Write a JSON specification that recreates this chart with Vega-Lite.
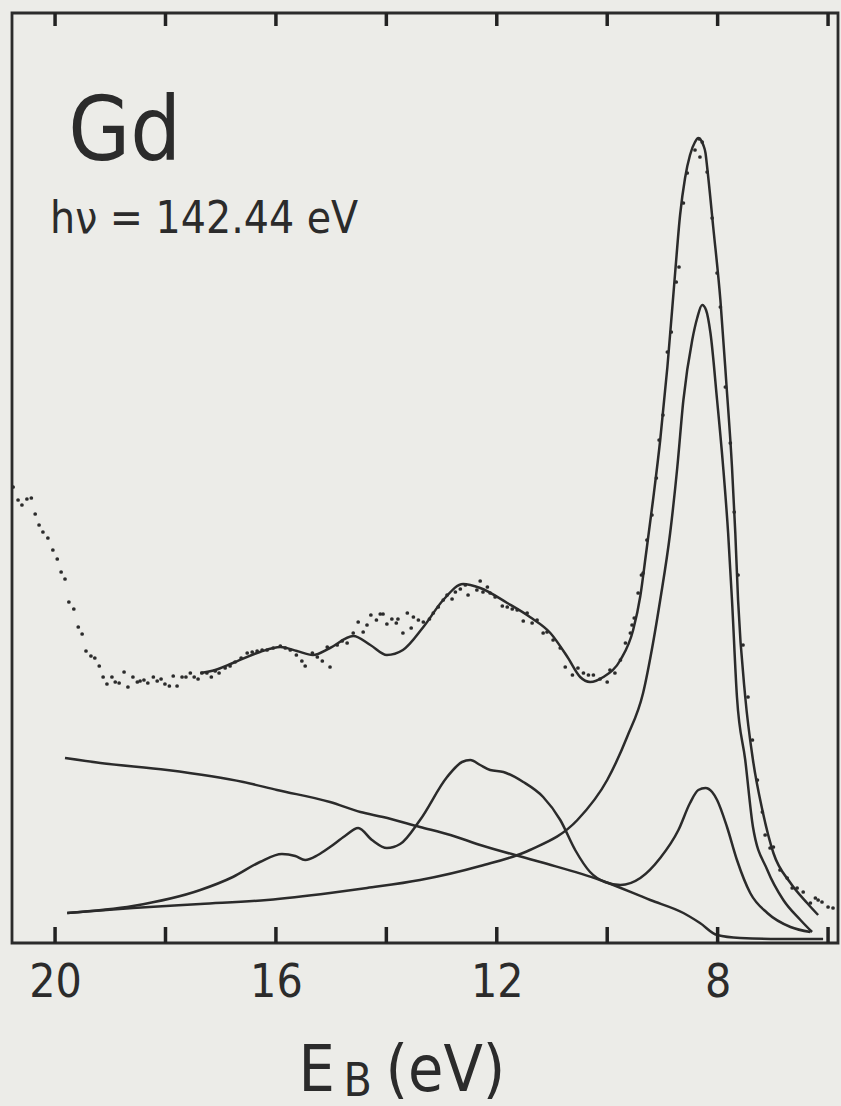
{
  "$schema": "https://vega.github.io/schema/vega-lite/v6.json",
  "width": 826,
  "height": 930,
  "autosize": {"type": "none"},
  "padding": {"left": 12, "top": 13, "right": 3, "bottom": 163},
  "background": "#ecece8",
  "config": {
    "view": {"stroke": "#2b2b2b", "strokeWidth": 2.8},
    "axis": {"grid": false, "domainColor": "#2b2b2b", "domainWidth": 2.8, "tickColor": "#2b2b2b", "tickWidth": 2.5, "labelColor": "#2b2b2b", "titleColor": "#2b2b2b", "labelFont": "DejaVu Sans Condensed, Liberation Sans Narrow, DejaVu Sans", "titleFont": "DejaVu Sans Condensed, Liberation Sans Narrow, DejaVu Sans"}
  },
  "datasets": {
    "tickvals": [{"E": 6}, {"E": 8}, {"E": 10}, {"E": 12}, {"E": 14}, {"E": 16}, {"E": 18}, {"E": 20}],
    "curves": [
      {"curve": "fit", "E": 17.37, "I": 270}, {"curve": "fit", "E": 17.10, "I": 273}, {"curve": "fit", "E": 16.78, "I": 280}, {"curve": "fit", "E": 16.29, "I": 291}, {"curve": "fit", "E": 15.92, "I": 296}, {"curve": "fit", "E": 15.62, "I": 292}, {"curve": "fit", "E": 15.33, "I": 288}, {"curve": "fit", "E": 15.02, "I": 295}, {"curve": "fit", "E": 14.60, "I": 307}, {"curve": "fit", "E": 14.29, "I": 298}, {"curve": "fit", "E": 13.99, "I": 288}, {"curve": "fit", "E": 13.70, "I": 293}, {"curve": "fit", "E": 13.33, "I": 316}, {"curve": "fit", "E": 12.97, "I": 343}, {"curve": "fit", "E": 12.61, "I": 359}, {"curve": "fit", "E": 12.30, "I": 355}, {"curve": "fit", "E": 11.81, "I": 340}, {"curve": "fit", "E": 11.40, "I": 326}, {"curve": "fit", "E": 11.03, "I": 310}, {"curve": "fit", "E": 10.72, "I": 286}, {"curve": "fit", "E": 10.49, "I": 266}, {"curve": "fit", "E": 10.31, "I": 261}, {"curve": "fit", "E": 10.07, "I": 266}, {"curve": "fit", "E": 9.76, "I": 283}, {"curve": "fit", "E": 9.53, "I": 313}, {"curve": "fit", "E": 9.40, "I": 347}, {"curve": "fit", "E": 9.30, "I": 388}, {"curve": "fit", "E": 9.17, "I": 443}, {"curve": "fit", "E": 9.04, "I": 503}, {"curve": "fit", "E": 8.91, "I": 576}, {"curve": "fit", "E": 8.77, "I": 670}, {"curve": "fit", "E": 8.68, "I": 728}, {"curve": "fit", "E": 8.59, "I": 765}, {"curve": "fit", "E": 8.50, "I": 788}, {"curve": "fit", "E": 8.41, "I": 801}, {"curve": "fit", "E": 8.35, "I": 805}, {"curve": "fit", "E": 8.26, "I": 798}, {"curve": "fit", "E": 8.22, "I": 790}, {"curve": "fit", "E": 8.19, "I": 776}, {"curve": "fit", "E": 8.08, "I": 716}, {"curve": "fit", "E": 7.95, "I": 643}, {"curve": "fit", "E": 7.84, "I": 558}, {"curve": "fit", "E": 7.74, "I": 476}, {"curve": "fit", "E": 7.68, "I": 410}, {"curve": "fit", "E": 7.63, "I": 343}, {"curve": "fit", "E": 7.50, "I": 246}, {"curve": "fit", "E": 7.36, "I": 183}, {"curve": "fit", "E": 7.19, "I": 133}, {"curve": "fit", "E": 6.99, "I": 90}, {"curve": "fit", "E": 6.68, "I": 60}, {"curve": "fit", "E": 6.38, "I": 40}, {"curve": "fit", "E": 6.18, "I": 28},
      {"curve": "peak", "E": 19.78, "I": 30}, {"curve": "peak", "E": 18.59, "I": 35}, {"curve": "peak", "E": 17.37, "I": 39}, {"curve": "peak", "E": 16.16, "I": 43}, {"curve": "peak", "E": 15.02, "I": 50}, {"curve": "peak", "E": 14.35, "I": 55}, {"curve": "peak", "E": 13.39, "I": 63}, {"curve": "peak", "E": 12.30, "I": 77}, {"curve": "peak", "E": 11.40, "I": 93}, {"curve": "peak", "E": 10.54, "I": 123}, {"curve": "peak", "E": 10.00, "I": 163}, {"curve": "peak", "E": 9.64, "I": 206}, {"curve": "peak", "E": 9.35, "I": 250}, {"curve": "peak", "E": 9.17, "I": 300}, {"curve": "peak", "E": 9.04, "I": 343}, {"curve": "peak", "E": 8.86, "I": 410}, {"curve": "peak", "E": 8.73, "I": 476}, {"curve": "peak", "E": 8.62, "I": 543}, {"curve": "peak", "E": 8.46, "I": 603}, {"curve": "peak", "E": 8.37, "I": 625}, {"curve": "peak", "E": 8.28, "I": 638}, {"curve": "peak", "E": 8.21, "I": 633}, {"curve": "peak", "E": 8.13, "I": 610}, {"curve": "peak", "E": 8.01, "I": 543}, {"curve": "peak", "E": 7.90, "I": 476}, {"curve": "peak", "E": 7.81, "I": 410}, {"curve": "peak", "E": 7.74, "I": 343}, {"curve": "peak", "E": 7.65, "I": 246}, {"curve": "peak", "E": 7.50, "I": 183}, {"curve": "peak", "E": 7.36, "I": 116}, {"curve": "peak", "E": 7.10, "I": 73}, {"curve": "peak", "E": 6.81, "I": 43}, {"curve": "peak", "E": 6.50, "I": 23}, {"curve": "peak", "E": 6.29, "I": 11},
      {"curve": "multiplet", "E": 19.78, "I": 30}, {"curve": "multiplet", "E": 18.59, "I": 37}, {"curve": "multiplet", "E": 17.37, "I": 53}, {"curve": "multiplet", "E": 16.78, "I": 66}, {"curve": "multiplet", "E": 16.29, "I": 81}, {"curve": "multiplet", "E": 15.89, "I": 89}, {"curve": "multiplet", "E": 15.65, "I": 87}, {"curve": "multiplet", "E": 15.47, "I": 83}, {"curve": "multiplet", "E": 15.24, "I": 88}, {"curve": "multiplet", "E": 15.02, "I": 96}, {"curve": "multiplet", "E": 14.75, "I": 107}, {"curve": "multiplet", "E": 14.51, "I": 115}, {"curve": "multiplet", "E": 14.26, "I": 103}, {"curve": "multiplet", "E": 13.99, "I": 95}, {"curve": "multiplet", "E": 13.75, "I": 99}, {"curve": "multiplet", "E": 13.39, "I": 123}, {"curve": "multiplet", "E": 12.90, "I": 166}, {"curve": "multiplet", "E": 12.63, "I": 181}, {"curve": "multiplet", "E": 12.48, "I": 183}, {"curve": "multiplet", "E": 12.30, "I": 178}, {"curve": "multiplet", "E": 12.12, "I": 173}, {"curve": "multiplet", "E": 11.88, "I": 171}, {"curve": "multiplet", "E": 11.52, "I": 161}, {"curve": "multiplet", "E": 11.16, "I": 146}, {"curve": "multiplet", "E": 10.85, "I": 123}, {"curve": "multiplet", "E": 10.58, "I": 93}, {"curve": "multiplet", "E": 10.31, "I": 71}, {"curve": "multiplet", "E": 10.04, "I": 61}, {"curve": "multiplet", "E": 9.76, "I": 58}, {"curve": "multiplet", "E": 9.40, "I": 65}, {"curve": "multiplet", "E": 9.04, "I": 85}, {"curve": "multiplet", "E": 8.71, "I": 113}, {"curve": "multiplet", "E": 8.50, "I": 140}, {"curve": "multiplet", "E": 8.35, "I": 153}, {"curve": "multiplet", "E": 8.22, "I": 155}, {"curve": "multiplet", "E": 8.10, "I": 151}, {"curve": "multiplet", "E": 8.01, "I": 143}, {"curve": "multiplet", "E": 7.83, "I": 116}, {"curve": "multiplet", "E": 7.65, "I": 83}, {"curve": "multiplet", "E": 7.41, "I": 50}, {"curve": "multiplet", "E": 7.10, "I": 30}, {"curve": "multiplet", "E": 6.68, "I": 16}, {"curve": "multiplet", "E": 6.32, "I": 11},
      {"curve": "background", "E": 19.82, "I": 185}, {"curve": "background", "E": 19.18, "I": 180}, {"curve": "background", "E": 17.97, "I": 173}, {"curve": "background", "E": 16.59, "I": 161}, {"curve": "background", "E": 15.98, "I": 153}, {"curve": "background", "E": 15.02, "I": 141}, {"curve": "background", "E": 14.47, "I": 131}, {"curve": "background", "E": 14.06, "I": 126}, {"curve": "background", "E": 13.39, "I": 116}, {"curve": "background", "E": 12.84, "I": 108}, {"curve": "background", "E": 12.30, "I": 98}, {"curve": "background", "E": 11.21, "I": 81}, {"curve": "background", "E": 10.13, "I": 63}, {"curve": "background", "E": 9.22, "I": 43}, {"curve": "background", "E": 8.62, "I": 30}, {"curve": "background", "E": 8.32, "I": 20}, {"curve": "background", "E": 8.01, "I": 8}, {"curve": "background", "E": 7.59, "I": 5}, {"curve": "background", "E": 6.87, "I": 4}, {"curve": "background", "E": 6.09, "I": 4}
    ],
    "dots": [
      {"E": 20.76, "I": 456}, {"E": 20.67, "I": 443}, {"E": 20.60, "I": 438}, {"E": 20.51, "I": 444}, {"E": 20.43, "I": 445}, {"E": 20.36, "I": 429}, {"E": 20.29, "I": 418}, {"E": 20.22, "I": 411}, {"E": 20.13, "I": 405}, {"E": 20.04, "I": 393}, {"E": 19.96, "I": 384}, {"E": 19.89, "I": 371}, {"E": 19.82, "I": 364}, {"E": 19.75, "I": 341}, {"E": 19.66, "I": 334}, {"E": 19.58, "I": 316}, {"E": 19.51, "I": 309}, {"E": 19.44, "I": 292}, {"E": 19.35, "I": 287}, {"E": 19.28, "I": 285}, {"E": 19.20, "I": 277}, {"E": 19.13, "I": 266}, {"E": 19.06, "I": 259}, {"E": 18.97, "I": 266}, {"E": 18.91, "I": 261}, {"E": 18.84, "I": 260}, {"E": 18.75, "I": 271}, {"E": 18.68, "I": 256}, {"E": 18.59, "I": 266}, {"E": 18.51, "I": 261}, {"E": 18.46, "I": 262}, {"E": 18.39, "I": 263}, {"E": 18.32, "I": 260}, {"E": 18.22, "I": 266}, {"E": 18.15, "I": 262}, {"E": 18.08, "I": 264}, {"E": 18.01, "I": 259}, {"E": 17.93, "I": 257}, {"E": 17.86, "I": 267}, {"E": 17.79, "I": 257}, {"E": 17.70, "I": 266}, {"E": 17.63, "I": 266}, {"E": 17.55, "I": 270}, {"E": 17.48, "I": 266}, {"E": 17.41, "I": 264}, {"E": 17.34, "I": 270}, {"E": 17.25, "I": 270}, {"E": 17.17, "I": 266}, {"E": 17.10, "I": 272}, {"E": 17.03, "I": 270}, {"E": 16.92, "I": 275}, {"E": 16.83, "I": 277}, {"E": 16.74, "I": 281}, {"E": 16.63, "I": 285}, {"E": 16.52, "I": 290}, {"E": 16.43, "I": 291}, {"E": 16.34, "I": 292}, {"E": 16.25, "I": 293}, {"E": 16.16, "I": 293}, {"E": 16.05, "I": 295}, {"E": 15.92, "I": 297}, {"E": 15.83, "I": 295}, {"E": 15.74, "I": 293}, {"E": 15.63, "I": 288}, {"E": 15.53, "I": 282}, {"E": 15.47, "I": 277}, {"E": 15.34, "I": 290}, {"E": 15.25, "I": 286}, {"E": 15.16, "I": 282}, {"E": 15.07, "I": 296}, {"E": 15.02, "I": 276}, {"E": 14.89, "I": 298}, {"E": 14.80, "I": 302}, {"E": 14.71, "I": 300}, {"E": 14.60, "I": 310}, {"E": 14.51, "I": 321}, {"E": 14.42, "I": 311}, {"E": 14.35, "I": 318}, {"E": 14.28, "I": 328}, {"E": 14.18, "I": 323}, {"E": 14.11, "I": 329}, {"E": 14.06, "I": 329}, {"E": 13.99, "I": 319}, {"E": 13.90, "I": 324}, {"E": 13.82, "I": 320}, {"E": 13.79, "I": 324}, {"E": 13.70, "I": 310}, {"E": 13.62, "I": 330}, {"E": 13.55, "I": 315}, {"E": 13.51, "I": 326}, {"E": 13.42, "I": 323}, {"E": 13.33, "I": 321}, {"E": 13.22, "I": 324}, {"E": 13.15, "I": 330}, {"E": 13.06, "I": 336}, {"E": 12.97, "I": 343}, {"E": 12.90, "I": 348}, {"E": 12.81, "I": 344}, {"E": 12.75, "I": 351}, {"E": 12.66, "I": 354}, {"E": 12.57, "I": 358}, {"E": 12.52, "I": 348}, {"E": 12.36, "I": 353}, {"E": 12.30, "I": 362}, {"E": 12.25, "I": 351}, {"E": 12.17, "I": 356}, {"E": 12.12, "I": 350}, {"E": 12.03, "I": 346}, {"E": 11.90, "I": 337}, {"E": 11.81, "I": 336}, {"E": 11.72, "I": 334}, {"E": 11.63, "I": 333}, {"E": 11.52, "I": 322}, {"E": 11.45, "I": 330}, {"E": 11.36, "I": 320}, {"E": 11.27, "I": 323}, {"E": 11.16, "I": 310}, {"E": 11.09, "I": 311}, {"E": 10.98, "I": 303}, {"E": 10.85, "I": 295}, {"E": 10.76, "I": 276}, {"E": 10.63, "I": 268}, {"E": 10.53, "I": 275}, {"E": 10.43, "I": 270}, {"E": 10.34, "I": 268}, {"E": 10.25, "I": 268}, {"E": 10.13, "I": 264}, {"E": 10.00, "I": 261}, {"E": 9.95, "I": 273}, {"E": 9.86, "I": 270}, {"E": 9.76, "I": 283}, {"E": 9.67, "I": 300}, {"E": 9.58, "I": 310}, {"E": 9.55, "I": 318}, {"E": 9.51, "I": 325}, {"E": 9.44, "I": 350}, {"E": 9.38, "I": 368}, {"E": 9.35, "I": 370}, {"E": 9.28, "I": 403}, {"E": 9.19, "I": 428}, {"E": 9.11, "I": 465}, {"E": 9.06, "I": 503}, {"E": 8.99, "I": 528}, {"E": 8.91, "I": 591}, {"E": 8.84, "I": 611}, {"E": 8.75, "I": 661}, {"E": 8.70, "I": 676}, {"E": 8.62, "I": 740}, {"E": 8.55, "I": 770}, {"E": 8.41, "I": 793}, {"E": 8.33, "I": 804}, {"E": 8.28, "I": 801}, {"E": 8.32, "I": 786}, {"E": 8.19, "I": 771}, {"E": 8.10, "I": 725}, {"E": 8.01, "I": 670}, {"E": 7.95, "I": 636}, {"E": 7.86, "I": 556}, {"E": 7.77, "I": 500}, {"E": 7.70, "I": 431}, {"E": 7.63, "I": 368}, {"E": 7.54, "I": 298}, {"E": 7.45, "I": 246}, {"E": 7.37, "I": 203}, {"E": 7.28, "I": 163}, {"E": 7.19, "I": 131}, {"E": 7.14, "I": 108}, {"E": 7.05, "I": 95}, {"E": 6.99, "I": 96}, {"E": 6.87, "I": 73}, {"E": 6.74, "I": 65}, {"E": 6.65, "I": 55}, {"E": 6.56, "I": 55}, {"E": 6.45, "I": 51}, {"E": 6.32, "I": 40}, {"E": 6.23, "I": 45}, {"E": 6.18, "I": 43}, {"E": 6.11, "I": 41}, {"E": 6.00, "I": 36}, {"E": 5.91, "I": 35}
    ]
  },
  "layer": [
    {
      "data": {"name": "curves"},
      "mark": {"type": "line", "interpolate": "monotone", "strokeWidth": 2.5, "color": "#2b2b2b"},
      "encoding": {
        "x": {
          "field": "E", "type": "quantitative",
          "scale": {"domain": [5.82, 20.78], "reverse": true, "nice": false, "zero": false},
          "axis": {"orient": "bottom", "domain": false, "values": [6, 8, 10, 12, 14, 16, 18, 20], "ticks": false, "labelExpr": "datum.value % 4 == 0 ? datum.label : ''", "labelFontSize": 46, "labelPadding": 17, "labelFlush": false, "labelOverlap": false, "title": "E", "titleFontSize": 64, "titleFontWeight": "normal", "titleX": 286, "titleY": 147, "titleAlign": "left", "titleBaseline": "alphabetic"}
        },
        "y": {
          "field": "I", "type": "quantitative",
          "scale": {"domain": [0, 930], "nice": false, "zero": true},
          "axis": {"domain": false, "ticks": false, "labels": false, "grid": false, "title": "(eV)", "titleAngle": 0, "titleX": 373, "titleY": 1077, "titleAlign": "left", "titleBaseline": "alphabetic", "titleFontSize": 64, "titleFontWeight": "normal"}
        },
        "detail": {"field": "curve", "type": "nominal"}
      }
    },
    {
      "data": {"name": "dots"},
      "mark": {"type": "circle", "size": 14, "color": "#2b2b2b", "opacity": 1},
      "encoding": {
        "x": {
          "field": "E", "type": "quantitative",
          "axis": {"orient": "top", "domain": false, "ticks": false, "labels": false, "title": "B", "titleFontSize": 46, "titleFontWeight": "normal", "titleX": 331, "titleY": 1082, "titleAlign": "left", "titleBaseline": "alphabetic"}
        },
        "y": {"field": "I", "type": "quantitative", "axis": null}
      }
    },
    {
      "data": {"values": [{}]},
      "mark": {"type": "text", "text": "Gd", "align": "left", "baseline": "alphabetic", "fontSize": 89, "font": "DejaVu Sans Condensed, Liberation Sans Narrow, DejaVu Sans", "color": "#2b2b2b"},
      "encoding": {
        "x": {"datum": 19.76, "type": "quantitative", "axis": null},
        "y": {"datum": 783, "type": "quantitative", "axis": null}
      }
    },
    {
      "data": {"values": [{}]},
      "mark": {"type": "text", "text": "hν = 142.44 eV", "align": "left", "baseline": "alphabetic", "fontSize": 44, "font": "DejaVu Sans Condensed, Liberation Sans Narrow, DejaVu Sans", "color": "#2b2b2b"},
      "encoding": {
        "x": {"datum": 20.09, "type": "quantitative", "axis": null},
        "y": {"datum": 710, "type": "quantitative", "axis": null}
      }
    },
    {
      "data": {"name": "tickvals"},
      "mark": {"type": "rule", "strokeWidth": 3.5, "color": "#222222"},
      "encoding": {
        "x": {"field": "E", "type": "quantitative", "axis": null},
        "y": {"datum": 0, "type": "quantitative", "axis": null},
        "y2": {"datum": 16}
      }
    },
    {
      "data": {"name": "tickvals"},
      "mark": {"type": "rule", "strokeWidth": 3.5, "color": "#222222"},
      "encoding": {
        "x": {"field": "E", "type": "quantitative", "axis": null},
        "y": {"datum": 930, "type": "quantitative", "axis": null},
        "y2": {"datum": 917}
      }
    }
  ],
  "resolve": {"axis": {"x": "independent", "y": "independent"}}
}
